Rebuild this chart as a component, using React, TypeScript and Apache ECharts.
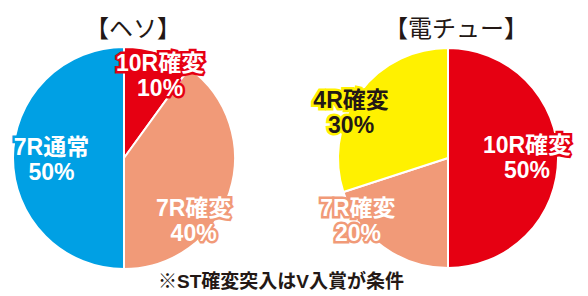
import React, { useEffect, useRef } from "react";
import * as echarts from "echarts";

const titles = ["【ヘソ】", "【電チュー】"];
const footnote = "※ST確変突入はV入賞が条件";

const hesoNames = ["10R確変", "7R確変", "7R通常"];
const hesoValues = [10, 40, 50];

const denchuNames = ["10R確変", "7R確変", "4R確変"];
const denchuValues = [50, 20, 30];

const RED = "#e60012";
const SALMON = "#f19a78";
const BLUE = "#00a0e4";
const YELLOW = "#fff100";
const DARK = "#231815";

const hesoColors = [RED, SALMON, BLUE];
const denchuColors = [RED, SALMON, YELLOW];
const hesoTextColors = ["#fff", "#fff", "#fff"];
const denchuTextColors = ["#fff", "#fff", DARK];

// label offsets from the default inside position (layout, not data)
const labelOffsets = [
  [[18, -27], [14, 44], [-14, 1]],
  [[21, -1], [-56, 16], [-50, -11]],
];

const FONT = "'Liberation Sans', 'Noto Sans CJK JP', sans-serif";

function buildSeries(
  names: string[],
  values: number[],
  colors: string[],
  textColors: string[],
  center: [number, number],
  radius: number
) {
  return {
    type: "pie",
    center,
    radius,
    startAngle: 90,
    clockwise: true,
    silent: true,
    itemStyle: { borderColor: "#fff", borderWidth: 2 },
    label: {
      show: true,
      position: "inside",
      formatter: (p: any) => `${p.name}\n${p.value}%`,
      fontFamily: FONT,
      fontWeight: "bold",
      fontSize: 23,
      lineHeight: 25,
      align: "center",
    },
    labelLine: { show: false },
    labelLayout: (p: any) => {
      const o = labelOffsets[p.seriesIndex][p.dataIndex];
      return { dx: o[0], dy: o[1] };
    },
    data: names.map((n, i) => ({
      name: n,
      value: values[i],
      itemStyle: { color: colors[i] },
      label: {
        color: textColors[i],
        textBorderColor: colors[i],
        textBorderWidth: 5,
      },
    })),
  };
}

export default function App() {
  const ref = useRef<HTMLDivElement>(null);
  useEffect(() => {
    document.body.style.margin = "0";
    const chart = echarts.init(ref.current!, undefined, { renderer: "svg" });
    const titleStyle = {
      fontFamily: "'Noto Sans CJK JP', sans-serif",
      fontSize: 24,
      fontWeight: "normal",
      color: DARK,
    };
    chart.setOption({
      animation: false,
      backgroundColor: "#fff",
      title: [
        { text: titles[0], left: 128, top: 9, textAlign: "center", textStyle: titleStyle },
        { text: titles[1], left: 451, top: 9, textAlign: "center", textStyle: titleStyle },
        {
          text: footnote,
          left: 276,
          top: 267,
          textAlign: "center",
          textStyle: { fontFamily: FONT, fontSize: 19, fontWeight: "bold", color: DARK },
        },
      ],
      series: [
        buildSeries(hesoNames, hesoValues, hesoColors, hesoTextColors, [124, 158], 111),
        buildSeries(denchuNames, denchuValues, denchuColors, denchuTextColors, [448, 158], 110),
      ],
    });
    return () => chart.dispose();
  }, []);
  return <div ref={ref} style={{ width: 588, height: 296 }} />;
}
